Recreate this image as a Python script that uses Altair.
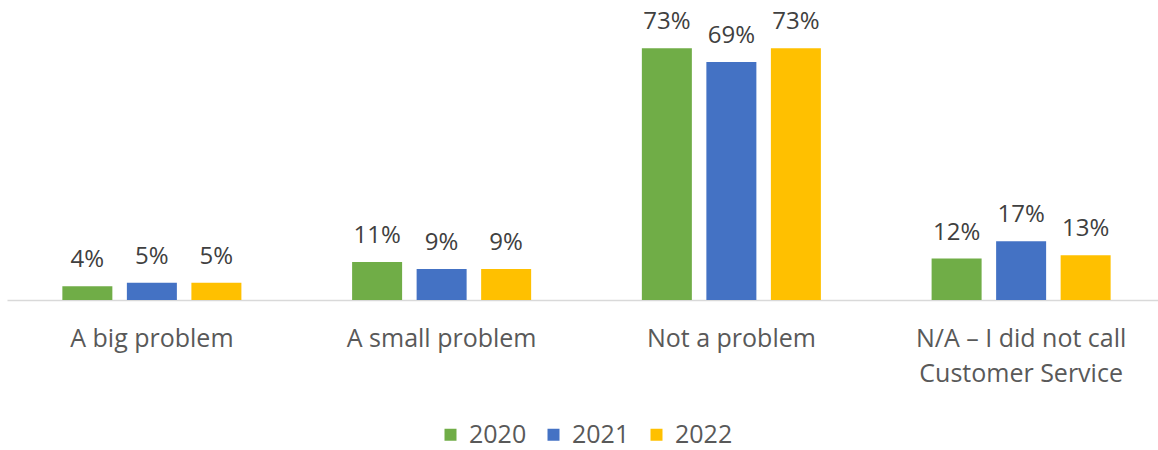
import altair as alt
import pandas as pd

categories = ["A big problem", "A small problem", "Not a problem",
              "N/A – I did not call Customer Service"]
years = ["2020", "2021", "2022"]
v2020 = [4, 11, 73, 12]
v2021 = [5, 9, 69, 17]
v2022 = [5, 9, 73, 13]
colors = ["#70AD47", "#4472C4", "#FFC000"]

rows = []
for yr, vals in zip(years, [v2020, v2021, v2022]):
    for c, v in zip(categories, vals):
        rows.append({"category": c, "year": yr, "value": v})
df = pd.DataFrame(rows)

FONT = "Open Sans"

x = alt.X("category:N", sort=categories, title=None,
          scale=alt.Scale(paddingInner=0, paddingOuter=0, range=[0, 1159]),
          axis=alt.Axis(labelAngle=0, ticks=False, grid=False,
                        domainColor="#D9D9D9", domainWidth=1.5,
                        labelFont=FONT, labelFontSize=25, labelColor="#595959",
                        labelPadding=26, labelBaseline="top", labelLineHeight=35,
                        labelLimit=400,
                        labelExpr="datum.value == 'N/A – I did not call Customer Service' ? ['N/A – I did not call', 'Customer Service'] : datum.label"))
xo = alt.XOffset("year:N", sort=years,
                 scale=alt.Scale(paddingInner=0.225, paddingOuter=0.858))
y = alt.Y("value:Q", title=None, scale=alt.Scale(domain=[0, 80], nice=False),
          axis=None)

bars = alt.Chart(df).mark_bar().encode(
    x=x, xOffset=xo, y=y,
    color=alt.Color("year:N", sort=years,
                    scale=alt.Scale(domain=years, range=colors),
                    legend=alt.Legend(title=None, orient="none",
                                      direction="horizontal",
                                      legendX=431, legendY=398,
                                      symbolType="square", symbolSize=144,
                                      symbolStrokeWidth=0,
                                      labelFont=FONT, labelFontSize=25,
                                      labelColor="#595959", labelOffset=6,
                                      columnPadding=14)),
)

labels = alt.Chart(df).transform_calculate(
    label="datum.value + '%'"
).mark_text(font=FONT, fontSize=24, color="#404040",
            baseline="alphabetic", dy=-19).encode(
    x=x, xOffset=xo, y=y, text="label:N"
)

chart = (bars + labels).properties(
    width=1151, height=276,
    autosize=alt.AutoSizeParams(type="none"),
    padding={"left": 7, "top": 24, "right": 0, "bottom": 150},
).configure(font=FONT).configure_view(stroke=None)

chart.save("out.html", embed_options={"renderer": "svg", "actions": False})
